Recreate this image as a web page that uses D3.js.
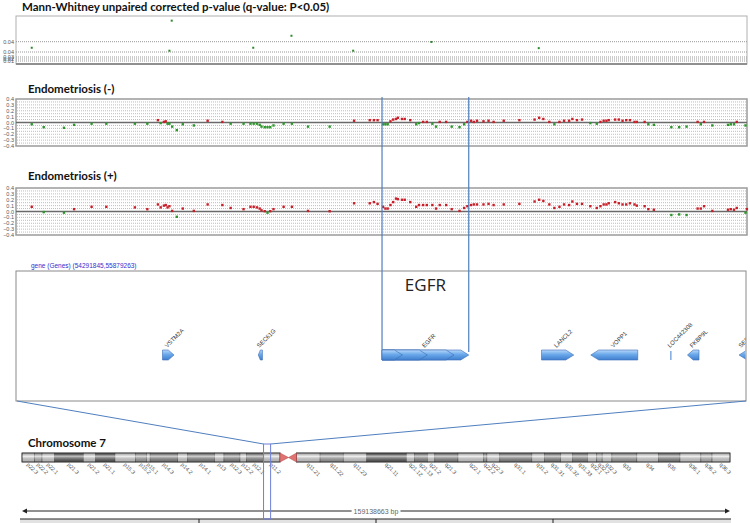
<!DOCTYPE html>
<html>
<head>
<meta charset="utf-8">
<script src="https://cdn.jsdelivr.net/npm/d3@7"></script>
<style>
  body { margin: 0; background: #fff; }
  svg { display: block; }
  .ttl { font-family: Lato, "Open Sans", sans-serif; font-weight: bold; font-size: 11.5px; fill: #111; }
  .tick { font-family: "Liberation Sans", Arial, sans-serif; font-size: 5.5px; fill: #555; }
</style>
</head>
<body>
<svg id="chart" width="750" height="523"></svg>
<script>
// region shown in the gene track (bp) and whole chromosome length
const regionStart = 54291845, regionEnd = 55879263;
const chromLength = 159138663;

// probe positions (Mb) shared by both Endometriosis tracks
const probePos = [
  54.326, 54.352, 54.396, 54.418, 54.456, 54.488, 54.550, 54.577, 54.600, 54.606,
  54.613, 54.617, 54.621, 54.625, 54.631, 54.641, 54.654, 54.678, 54.708, 54.740,
  54.758, 54.786, 54.801, 54.808, 54.815, 54.821, 54.825, 54.832, 54.838, 54.844,
  54.851, 54.873, 54.891, 54.926, 54.973, 55.026, 55.060, 55.069, 55.077, 55.089,
  55.094, 55.099, 55.105, 55.111, 55.117, 55.121, 55.130, 55.136, 55.148, 55.161,
  55.167, 55.176, 55.184, 55.196, 55.204, 55.212, 55.226, 55.238, 55.255, 55.265,
  55.272, 55.280, 55.286, 55.293, 55.307, 55.318, 55.329, 55.351, 55.385, 55.418,
  55.428, 55.437, 55.450, 55.461, 55.472, 55.482, 55.493, 55.500, 55.510, 55.521,
  55.539, 55.553, 55.561, 55.568, 55.574, 55.579, 55.593, 55.601, 55.609, 55.617,
  55.625, 55.635, 55.640, 55.657, 55.665, 55.677, 55.715, 55.732, 55.748, 55.772,
  55.779, 55.786, 55.804, 55.838, 55.844, 55.851, 55.857, 55.876, 55.879
];
// Endometriosis (-)
const endoNeg = [
  -0.03, -0.08, -0.09, -0.04, -0.02, -0.02, -0.02, -0.02, 0.04, -0.01,
  0.01, 0.02, -0.02, -0.02, -0.07, -0.13, -0.03, -0.05, 0.03, 0.01,
  -0.02, -0.02, -0.02, -0.02, -0.02, -0.04, -0.07, -0.08, -0.08, -0.08,
  -0.05, -0.02, -0.02, -0.07, -0.07, 0.03, 0.04, 0.04, 0.04, -0.03,
  -0.03, -0.03, 0.02, 0.05, 0.06, 0.08, 0.06, 0.06, 0.04, -0.03,
  -0.01, 0.01, 0.01, -0.02, -0.07, 0.01, 0.01, -0.07, -0.08, -0.03,
  0.01, 0.03, 0.01, 0.03, 0.02, 0.03, 0.01, 0.03, 0.04, 0.05,
  0.08, 0.06, 0.01, -0.03, 0.01, 0.03, 0.03, 0.06, 0.04, 0.05,
  -0.01, -0.02, 0.01, 0.03, 0.03, 0.04, 0.05, 0.05, 0.03, 0.04,
  0.04, 0.01, 0.01, 0.01, -0.03, -0.04, -0.08, -0.08, -0.07, 0.01,
  -0.03, 0.01, -0.05, -0.04, -0.03, -0.03, 0.01, -0.05, null
];
// Endometriosis (+)
const endoPos = [
  0.08, -0.01, -0.02, 0.04, 0.08, 0.08, 0.07, 0.04, 0.12, 0.07,
  0.10, 0.11, 0.07, 0.09, 0.01, -0.09, 0.05, 0.01, 0.12, 0.11,
  0.06, 0.04, 0.08, 0.08, 0.07, 0.05, 0.02, 0.005, -0.02, 0.005,
  0.04, 0.08, 0.08, 0.01, 0.005, 0.14, 0.14, 0.16, 0.13, 0.08,
  0.05, 0.05, 0.11, 0.16, 0.22, 0.21, 0.20, 0.20, 0.16, 0.08,
  0.11, 0.11, 0.11, 0.11, 0.05, 0.11, 0.11, 0.04, 0.01, 0.06,
  0.09, 0.11, 0.12, 0.12, 0.12, 0.13, 0.11, 0.12, 0.13, 0.17,
  0.20, 0.18, 0.12, 0.06, 0.08, 0.12, 0.11, 0.17, 0.13, 0.13,
  0.09, 0.06, 0.09, 0.12, 0.12, 0.14, 0.16, 0.14, 0.12, 0.12,
  0.14, 0.12, 0.10, 0.09, 0.04, 0.03, -0.06, -0.05, -0.06, 0.05,
  0.05, 0.09, 0.01, 0.03, 0.04, 0.03, 0.06, -0.02, 0.04
];
const ratioTicks = [0.4, 0.3, 0.2, 0.1, 0, -0.1, -0.2, -0.3, -0.4];

// Mann-Whitney q-values
const pvalPos = [54.326, 54.625, 54.630, 54.807, 54.890, 55.024, 55.194, 55.427];
const pvalQ = [0.0393, 0.037, 0.0571, 0.0393, 0.0477, 0.037, 0.0438, 0.039];
const pvalTicks = [0.044, 0.036, 0.031, 0.022, 0.012];

// genes (Mb)
const geneNames = ['VSTM2A', 'SEC61G', 'EGFR', 'LANCL2', 'VOPP1', 'LOC442308', 'FKBP9L', 'SEPT14'];
const geneStart = [54.610, 54.818, 55.0867, 55.433, 55.540, 55.714, 55.750, 55.862];
const geneEnd = [54.635, 54.827, 55.2750, 55.503, 55.642, 55.7145, 55.775, 55.930];
const geneStrand = ['+', '-', '+', '+', '-', '+', '-', '-'];
const egfrIsoformEnds = [55.131, 55.185, 55.243];

// chromosome 7 cytobands (Mb)
const bandNames = ['p22.3','p22.2','p22.1','p21.3','p21.2','p21.1','p15.3','p15.2','p15.1','p14.3','p14.2','p14.1','p13','p12.3','p12.2','p12.1','p11.2','p11.1',
  'q11.1','q11.21','q11.22','q11.23','q21.11','q21.12','q21.13','q21.2','q21.3','q22.1','q22.2','q22.3','q31.1','q31.2','q31.31','q31.32','q31.33','q32.1','q32.2','q32.3','q33','q34','q35','q36.1','q36.2','q36.3'];
const bandEnds = [2.8, 4.5, 7.3, 13.8, 16.5, 20.9, 25.5, 28.0, 28.8, 35.0, 37.2, 43.3, 45.4, 49.0, 50.5, 54.0, 58.0, 59.9,
  61.7, 67.0, 72.2, 77.5, 86.4, 88.2, 91.1, 92.8, 98.0, 103.8, 104.5, 107.4, 114.6, 117.4, 121.1, 123.8, 127.1, 129.2, 130.4, 132.6, 138.2, 143.1, 147.9, 152.6, 155.1, 159.138663];
const bandStain = ['gneg','gpos25','gneg','gpos100','gneg','gpos100','gneg','gpos50','gneg','gpos75','gneg','gpos75','gneg','gpos75','gneg','gpos75','gneg','acen',
  'acen','gneg','gpos50','gneg','gpos100','gneg','gpos75','gneg','gpos75','gneg','gpos50','gneg','gpos75','gneg','gpos75','gneg','gpos75','gneg','gpos25','gneg','gpos50','gneg','gpos75','gneg','gpos25','gneg'];

const svg = d3.select('#chart');
const defs = svg.append('defs');

const x = d3.scaleLinear().domain([regionStart / 1e6, regionEnd / 1e6]).range([16, 747]);
const red = '#c8202a', green = '#2e962e';

// ---------- top panel: q-values ----------
svg.append('text').attr('class', 'ttl').attr('x', 22).attr('y', 11).text('Mann-Whitney unpaired corrected p-value (q-value: P<0.05)');

const yP = d3.scaleLinear()
    .domain([0, 0.012, 0.022, 0.031, 0.036, 0.044, 0.06])
    .range([64, 61, 59, 57, 52, 41.7, 16]);

svg.append('rect').attr('x', 16).attr('y', 16).attr('width', 731).attr('height', 48)
    .attr('fill', 'none').attr('stroke', '#b0b0b0').attr('stroke-width', 1);
svg.append('g').selectAll('line').data(pvalTicks).join('line')
    .attr('x1', 16).attr('x2', 747).attr('y1', d => yP(d)).attr('y2', d => yP(d))
    .attr('stroke', '#999').attr('stroke-dasharray', '1,1');
svg.append('line').attr('x1', 16).attr('x2', 747).attr('y1', 64).attr('y2', 64)
    .attr('stroke', '#777').attr('stroke-width', 1.3);
svg.append('g').selectAll('text').data(pvalTicks).join('text')
    .attr('class', 'tick').attr('x', 14).attr('y', d => yP(d) + 2).attr('text-anchor', 'end')
    .text(d => d3.format('.2f')(d));
svg.append('g').selectAll('rect').data(pvalPos).join('rect')
    .attr('x', (d) => x(d) - 1).attr('y', (d, i) => yP(pvalQ[i]) - 1)
    .attr('width', 2).attr('height', 2).attr('fill', '#2a8a2a');

// ---------- ratio panels ----------
function ratioPanel(titleText, titleY, top, bottom, values) {
  svg.append('text').attr('class', 'ttl').attr('x', 28).attr('y', titleY).text(titleText);
  const y = d3.scaleLinear().domain([-0.4, 0.4]).range([bottom, top]);
  const g = svg.append('g');
  g.append('rect').attr('x', 16).attr('y', top).attr('width', 731).attr('height', bottom - top)
      .attr('fill', '#fff').attr('stroke', '#9a9a9a').attr('stroke-width', 1.5);
  g.selectAll('line.grid').data(d3.range(-7, 8).map(k => k * 0.05)).join('line')
      .attr('class', 'grid')
      .attr('x1', 17).attr('x2', 746).attr('y1', d => y(d)).attr('y2', d => y(d))
      .attr('stroke', '#bdbdbd').attr('stroke-dasharray', '1,1');
  g.append('line').attr('x1', 16).attr('x2', 747).attr('y1', y(0)).attr('y2', y(0))
      .attr('stroke', '#6a6a6a').attr('stroke-width', 1.5);
  g.selectAll('text').data(ratioTicks).join('text')
      .attr('class', 'tick').attr('x', 14).attr('y', d => y(d) + 2).attr('text-anchor', 'end')
      .text(d => d3.format('.1f')(d));
  const pts = probePos.map((p, i) => ({ p, v: values[i] })).filter(d => d.v !== null);
  g.selectAll('rect.pt').data(pts).join('rect')
      .attr('class', 'pt')
      .attr('x', d => x(d.p) - 1.2).attr('y', d => y(d.v) - 1.2)
      .attr('width', 2.4).attr('height', 2.4)
      .attr('fill', d => d.v > 0 ? red : green);
}
ratioPanel('Endometriosis (-)', 93, 99, 146, endoNeg);
ratioPanel('Endometriosis (+)', 180, 188, 235, endoPos);

// ---------- gene track ----------
const gTop = 271, gBot = 401, geneY = 355, geneH = 10;
svg.append('text').attr('x', 31).attr('y', 268)
    .attr('font-family', '"Liberation Sans", Arial, sans-serif').attr('font-size', 6.5).attr('fill', '#3030d0')
    .text(`gene (Genes) (${regionStart},${regionEnd})`);
svg.append('rect').attr('x', 16).attr('y', gTop).attr('width', 730).attr('height', gBot - gTop)
    .attr('fill', '#fff').attr('stroke', '#8a8a8a').attr('stroke-width', 1);

defs.append('clipPath').attr('id', 'geneClip').append('rect')
    .attr('x', 16.5).attr('y', gTop).attr('width', 729).attr('height', gBot - gTop);
const grad = defs.append('linearGradient').attr('id', 'geneGrad').attr('x1', 0).attr('x2', 0).attr('y1', 0).attr('y2', 1);
grad.append('stop').attr('offset', '0%').attr('stop-color', '#b8d8fa');
grad.append('stop').attr('offset', '45%').attr('stop-color', '#6aa8ea');
grad.append('stop').attr('offset', '100%').attr('stop-color', '#3f7fcf');

function arrowPath(x0, x1, strand) {
  const w = x1 - x0, h = Math.min(8, w * 0.5);
  const t = geneY - geneH / 2, b = geneY + geneH / 2;
  if (strand === '+') return `M${x0},${t}L${x1 - h},${t}L${x1},${geneY}L${x1 - h},${b}L${x0},${b}Z`;
  return `M${x1},${t}L${x0 + h},${t}L${x0},${geneY}L${x0 + h},${b}L${x1},${b}Z`;
}

const geneG = svg.append('g').attr('clip-path', 'url(#geneClip)');
const genes = geneNames.map((n, i) => ({ n, s: geneStart[i], e: geneEnd[i], str: geneStrand[i] }));
genes.forEach(d => {
  const x0 = x(d.s), x1 = x(d.e);
  if (x1 - x0 < 2) {
    geneG.append('line').attr('x1', x0).attr('x2', x0).attr('y1', geneY - 4).attr('y2', geneY + 5)
        .attr('stroke', '#3f7fcf').attr('stroke-width', 1);
  } else {
    geneG.append('path').attr('d', arrowPath(x0, x1, d.str))
        .attr('fill', 'url(#geneGrad)').attr('stroke', '#3a6db5').attr('stroke-width', 0.6);
  }
  if (d.n === 'EGFR') {
    egfrIsoformEnds.slice().reverse().forEach(e => {
      geneG.append('path').attr('d', arrowPath(x0, x(e), '+'))
          .attr('fill', 'url(#geneGrad)').attr('stroke', '#3a6db5').attr('stroke-width', 0.6);
    });
  }
  geneG.append('text')
      .attr('transform', `translate(${Math.min((x0 + x1) / 2 - 1, 741)},${geneY - 7}) rotate(-45)`)
      .attr('font-family', '"Liberation Sans", Arial, sans-serif').attr('font-size', 6).attr('fill', '#333')
      .text(d.n);
});

// EGFR highlight lines + label
const egfr = genes.find(d => d.n === 'EGFR');
[egfr.s, egfr.e].forEach((p, i) => {
  svg.append('line').attr('x1', x(p)).attr('x2', x(p)).attr('y1', 97).attr('y2', geneY - 5 + i * 2)
      .attr('stroke', '#4f7fbf').attr('stroke-width', 1.2);
});
svg.append('text').attr('x', (x(egfr.s) + x(egfr.e)) / 2).attr('y', 291).attr('text-anchor', 'middle')
    .attr('font-family', '"Open Sans", sans-serif').attr('font-size', 17).attr('fill', '#222').text('EGFR');

// ---------- chromosome ideogram ----------
svg.append('text').attr('class', 'ttl').attr('x', 28).attr('y', 447).text('Chromosome 7');
const xc = d3.scaleLinear().domain([0, chromLength / 1e6]).range([22, 730]);
const cTop = 453, cBot = 462, cMid = (cTop + cBot) / 2;
const stainFill = { gneg: '#e6e6e6', gpos25: '#c6c6c6', gpos50: '#aaaaaa', gpos75: '#8e8e8e', gpos100: '#606060' };
const bands = bandNames.map((n, i) => ({ n, s: i ? bandEnds[i - 1] : 0, e: bandEnds[i], st: bandStain[i] }));

const gl = defs.append('linearGradient').attr('id', 'gloss').attr('x1', 0).attr('x2', 0).attr('y1', 0).attr('y2', 1);
gl.append('stop').attr('offset', '0%').attr('stop-color', '#000').attr('stop-opacity', 0.12);
gl.append('stop').attr('offset', '35%').attr('stop-color', '#fff').attr('stop-opacity', 0.65);
gl.append('stop').attr('offset', '100%').attr('stop-color', '#000').attr('stop-opacity', 0.18);

const chrG = svg.append('g');
chrG.selectAll('rect.band').data(bands.filter(b => b.st !== 'acen')).join('rect')
    .attr('class', 'band')
    .attr('x', d => xc(d.s)).attr('y', cTop).attr('width', d => xc(d.e) - xc(d.s)).attr('height', cBot - cTop)
    .attr('fill', d => stainFill[d.st]).attr('stroke', '#444').attr('stroke-width', 0.5);
const pEnd = bands.find(b => b.n === 'p11.1'), qStart = bands.find(b => b.n === 'q11.1');
[[0, pEnd.s], [qStart.e, chromLength / 1e6]].forEach(([a, b]) => {
  chrG.append('rect').attr('x', xc(a)).attr('y', cTop).attr('width', xc(b) - xc(a)).attr('height', cBot - cTop)
      .attr('fill', 'url(#gloss)').attr('stroke', '#333').attr('stroke-width', 0.8);
});
chrG.append('path')
    .attr('d', `M${xc(pEnd.s)},${cTop}L${xc(pEnd.e)},${cMid}L${xc(pEnd.s)},${cBot}Z`)
    .attr('fill', '#e07272').attr('stroke', '#b04848').attr('stroke-width', 0.5);
chrG.append('path')
    .attr('d', `M${xc(qStart.e)},${cTop}L${xc(qStart.s)},${cMid}L${xc(qStart.e)},${cBot}Z`)
    .attr('fill', '#e07272').attr('stroke', '#b04848').attr('stroke-width', 0.5);
chrG.selectAll('text').data(bands.filter(b => b.st !== 'acen')).join('text')
    .attr('transform', d => `translate(${(xc(d.s) + xc(d.e)) / 2 - 2},${cBot + 3}) rotate(45)`)
    .attr('font-family', '"Liberation Sans", Arial, sans-serif').attr('font-size', 5.5).attr('fill', '#555')
    .text(d => d.n);

// zoom connector and selection box
const bx0 = xc(regionStart / 1e6), bx1 = xc(regionEnd / 1e6);
svg.append('line').attr('x1', 17).attr('y1', gBot).attr('x2', bx0).attr('y2', 444).attr('stroke', '#4f7fbf').attr('stroke-width', 1);
svg.append('line').attr('x1', 746).attr('y1', gBot).attr('x2', bx1).attr('y2', 444).attr('stroke', '#4f7fbf').attr('stroke-width', 1);

// ---------- length ruler ----------
const rY = 511;
svg.append('line').attr('x1', xc(0) + 3).attr('x2', xc(chromLength / 1e6) - 3).attr('y1', rY).attr('y2', rY)
    .attr('stroke', '#222').attr('stroke-width', 1);
svg.append('path').attr('d', `M${xc(0)},${rY}l5,-2.5v5Z`).attr('fill', '#222');
svg.append('path').attr('d', `M${xc(chromLength / 1e6)},${rY}l-5,-2.5v5Z`).attr('fill', '#222');
const lblBg = svg.append('rect').attr('fill', '#fff');
const lbl = svg.append('text').attr('x', xc(chromLength / 2e6)).attr('y', rY + 2.5).attr('text-anchor', 'middle')
    .attr('font-family', '"Liberation Sans", Arial, sans-serif').attr('font-size', 7).attr('fill', '#666')
    .text(`${chromLength} bp`);
const bb = lbl.node().getBBox();
lblBg.attr('x', bb.x - 2).attr('y', bb.y).attr('width', bb.width + 4).attr('height', bb.height);

svg.append('rect').attr('x', 20).attr('y', 519).attr('width', 711).attr('height', 4).attr('fill', '#e2e2e2');
svg.append('line').attr('x1', 20).attr('x2', 731).attr('y1', 519).attr('y2', 519).attr('stroke', '#222').attr('stroke-width', 1);
svg.append('g').selectAll('line').data([1, 2, 3]).join('line')
    .attr('x1', d => xc(chromLength / 1e6 * d / 4)).attr('x2', d => xc(chromLength / 1e6 * d / 4))
    .attr('y1', 519).attr('y2', 523).attr('stroke', '#222').attr('stroke-width', 1);

// selection box on the chromosome
svg.append('rect').attr('x', bx0).attr('y', 444).attr('width', bx1 - bx0).attr('height', 75)
    .attr('fill', 'none').attr('stroke', '#6f80d8').attr('stroke-width', 1);
</script>
</body>
</html>
